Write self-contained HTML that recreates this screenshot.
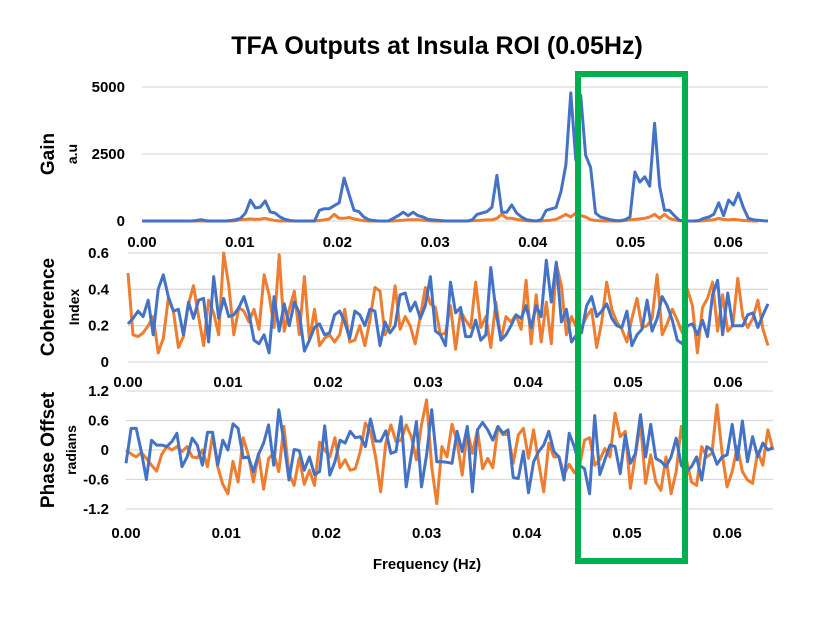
<!DOCTYPE html>
<html><head><meta charset="utf-8"><style>
body{margin:0;background:#fff;}
svg text{font-family:"Liberation Sans",Arial,sans-serif;font-weight:bold;fill:#000;}
</style></head><body>
<svg id="c" width="830" height="622" viewBox="0 0 830 622" xmlns="http://www.w3.org/2000/svg">
<text x="437" y="54" text-anchor="middle" font-size="25">TFA Outputs at Insula ROI (0.05Hz)</text>
<text x="427" y="569" text-anchor="middle" font-size="15">Frequency (Hz)</text>
<g id="grid"></g><g id="series"></g><g id="labels"></g>
<rect x="578" y="74" width="107" height="487" fill="none" stroke="#00b050" stroke-width="6"/>
</svg>
<script>
const xTicks=["0.00","0.01","0.02","0.03","0.04","0.05","0.06"];
const gainTicks=[0,2500,5000];
const cohTicks=[0,0.2,0.4,0.6];
const phaseTicks=[-1.2,-0.6,0,0.6,1.2];
const gainBlue=[0,0,0,0,0,0,0,0,0,0,0,20,50,10,0,0,0,0,20,50,100,300,780,490,520,750,340,300,150,60,20,5,0,0,0,0,400,460,460,570,680,1600,1000,400,350,150,50,20,0,0,0,100,200,330,200,330,200,150,60,40,30,10,0,0,0,0,0,50,250,300,350,520,1700,330,330,600,300,150,50,20,0,50,400,450,500,1100,2100,4780,2280,4700,2460,2000,300,150,100,50,20,10,50,150,1830,1450,1650,1300,3650,1300,400,400,200,30,0,0,0,20,100,150,250,680,200,780,600,1040,500,100,50,30,10,0];
const gainOrange=[0,0,0,0,0,0,0,0,0,0,0,0,0,0,0,0,0,0,0,10,50,60,80,60,70,100,50,20,0,0,0,0,0,0,0,0,20,40,80,250,100,100,130,80,40,10,0,0,0,0,0,0,20,30,50,50,50,30,10,0,0,0,0,0,0,0,0,10,20,30,40,40,100,250,100,100,60,30,10,0,0,0,20,30,60,150,250,150,300,200,150,50,20,10,0,0,0,0,20,40,60,80,100,150,250,100,250,100,40,10,0,0,0,0,10,30,50,100,60,40,60,40,20,10,0,0];
const cohBlue=[0.21,0.24,0.28,0.25,0.34,0.15,0.40,0.48,0.36,0.28,0.29,0.15,0.33,0.24,0.34,0.35,0.11,0.47,0.24,0.35,0.25,0.26,0.30,0.36,0.27,0.12,0.10,0.15,0.05,0.36,0.17,0.32,0.20,0.33,0.27,0.06,0.12,0.19,0.21,0.15,0.16,0.26,0.28,0.22,0.13,0.28,0.26,0.20,0.29,0.28,0.09,0.22,0.16,0.20,0.37,0.38,0.28,0.33,0.24,0.31,0.47,0.17,0.15,0.09,
0.44,0.27,0.30,0.14,0.14,0.23,0.12,0.15,0.52,0.28,0.12,0.15,0.20,0.26,0.24,0.31,0.19,0.31,0.25,0.56,0.33,0.55,0.22,0.29,0.11,0.15,0.16,0.31,0.36,0.25,0.28,0.32,0.24,0.20,0.19,0.28,0.09,0.15,0.18,0.34,0.17,0.24,0.36,0.31,0.23,0.12,0.10,0.20,0.21,0.15,0.23,0.14,0.37,0.45,0.15,0.38,0.20,0.20,0.20,0.26,0.27,0.19,0.26,0.32];
const cohOrange=[0.49,0.15,0.14,0.16,0.20,0.25,0.05,0.13,0.35,0.28,0.08,0.14,0.32,0.42,0.25,0.09,0.34,0.27,0.15,0.60,0.42,0.15,0.30,0.28,0.22,0.29,0.18,0.48,0.37,0.19,0.59,0.17,0.29,0.39,0.15,0.47,0.12,0.29,0.09,0.13,0.15,0.11,0.15,0.29,0.11,0.12,0.20,0.09,0.23,0.41,0.39,0.15,0.20,0.42,0.18,0.25,0.20,0.10,0.25,0.41,0.32,0.30,0.15,0.16,
0.31,0.07,0.28,0.23,0.19,0.44,0.19,0.25,0.08,0.33,0.12,0.25,0.22,0.26,0.18,0.45,0.10,0.37,0.11,0.33,0.10,0.54,0.42,0.15,0.25,0.19,0.19,0.25,0.29,0.08,0.22,0.44,0.29,0.22,0.18,0.11,0.24,0.35,0.19,0.20,0.24,0.48,0.15,0.21,0.29,0.23,0.16,0.40,0.31,0.05,0.30,0.35,0.44,0.17,0.37,0.17,0.20,0.46,0.25,0.19,0.24,0.34,0.18,0.09];
const phaseBlue=[-0.27,0.44,0.44,-0.03,-0.60,0.20,0.10,0.10,0.07,0.17,0.34,-0.34,-0.14,0.24,0.10,-0.31,0.36,0.36,-0.31,0.20,0.00,0.53,0.44,-0.16,-0.14,-0.44,-0.09,0.14,0.51,-0.31,0.82,0.17,-0.61,0.01,-0.01,-0.41,-0.14,-0.50,-0.44,0.49,-0.51,-0.24,0.20,0.14,0.38,0.25,0.27,0.07,0.63,0.18,0.18,0.39,-0.07,-0.03,0.68,-0.75,-0.10,0.58,-0.75,-0.10,0.82,-0.24,-0.24,-0.25,
-0.27,0.38,-0.03,0.48,-0.85,0.41,0.56,0.41,0.20,0.48,0.34,0.41,-0.56,-0.58,-0.03,-0.87,-0.24,-0.03,0.10,0.38,-0.03,-0.14,-0.61,0.34,0.07,-0.31,-0.38,-0.89,0.70,-0.50,-0.20,0.10,0.07,-0.48,0.31,-0.27,-0.07,0.72,-0.14,0.52,-0.17,-0.23,-0.34,-0.14,0.24,-0.31,-0.44,-0.34,-0.14,-0.61,0.07,0.00,-0.29,-0.14,-0.10,0.52,-0.20,0.59,-0.24,0.27,-0.14,0.14,0.00,0.05];
const phaseOrange=[0.00,-0.08,-0.14,-0.05,-0.17,-0.31,-0.43,-0.09,0.07,0.00,0.07,-0.03,0.07,-0.14,-0.16,0.00,-0.34,0.31,-0.34,-0.70,-0.89,-0.23,-0.65,0.25,-0.10,-0.65,-0.07,-0.80,-0.17,-0.07,-0.44,0.48,-0.48,-0.72,-0.16,-0.70,-0.41,-0.72,0.16,0.00,-0.14,0.25,-0.36,-0.20,-0.41,-0.38,-0.03,0.55,0.38,-0.14,-0.85,0.14,0.51,0.17,0.20,0.51,0.27,-0.20,0.51,1.02,-0.34,-1.09,0.07,-0.14,
0.52,0.17,-0.51,0.41,-0.07,0.41,-0.38,-0.17,-0.36,0.46,0.31,0.32,-0.27,0.31,0.44,-0.17,0.41,-0.27,-0.85,0.14,-0.14,-0.14,-0.50,-0.29,-0.46,-0.34,0.20,0.25,-0.31,-0.20,0.03,-0.14,0.75,0.27,0.38,-0.78,-0.10,0.55,-0.68,-0.10,-0.65,-0.82,-0.14,-0.89,-0.44,0.48,-0.20,-0.65,-0.72,0.07,-0.14,-0.07,0.92,-0.07,-0.75,-0.44,0.07,-0.44,-0.61,-0.68,-0.03,-0.31,0.41,0.00];

const NS="http://www.w3.org/2000/svg";
const grid=document.getElementById('grid'),ser=document.getElementById('series'),lab=document.getElementById('labels');
function mk(tag,attrs,parent){const e=document.createElementNS(NS,tag);for(const k in attrs)e.setAttribute(k,attrs[k]);parent.appendChild(e);return e;}
const panels=[
 {key:'gain',x0:142,pxPer:97.7,xEnd:768,yMin:0,yMax:5000,yBot:221,yTop:87,ticks:gainTicks,fmt:v=>String(v),tickX:125,xLabY:247,blue:gainBlue,orange:gainOrange,title:'Gain',sub:'a.u',subX:73,titleX:48,titleY:154},
 {key:'coherence',x0:128,pxPer:100,xEnd:768,yMin:0,yMax:0.6,yBot:362,yTop:253,ticks:cohTicks,fmt:v=>v===0?'0':v.toFixed(1),tickX:109,xLabY:387,blue:cohBlue,orange:cohOrange,title:'Coherence',sub:'Index',subX:75,titleX:48,titleY:307},
 {key:'phase',x0:126,pxPer:100.2,xEnd:773,yMin:-1.2,yMax:1.2,yBot:509,yTop:391,ticks:phaseTicks,fmt:v=>v===0?'0':v.toFixed(1),tickX:109,xLabY:538,blue:phaseBlue,orange:phaseOrange,title:'Phase Offset',sub:'radians',subX:72,titleX:48,titleY:450}
];
panels.forEach(p=>{
 const yS=v=>p.yBot-(v-p.yMin)/(p.yMax-p.yMin)*(p.yBot-p.yTop);
 const n=p.blue.length;
 const xS=i=>p.x0+i*(p.xEnd-p.x0)/(n-1);
 p.ticks.forEach(t=>{
  const gl=mk('line',{x1:p.x0,x2:p.xEnd,y1:yS(t),y2:yS(t),stroke:'#d9d9d9','stroke-width':1.3},grid);
  
  
  const tl=mk('text',{x:p.tickX,y:yS(t)+5,'text-anchor':'end','font-size':15},lab);
  tl.textContent=p.fmt(t);
  
  
 });
 xTicks.forEach((t,k)=>{
  const tl=mk('text',{x:p.x0+k*p.pxPer,y:p.xLabY,'text-anchor':'middle','font-size':15},lab);
  tl.textContent=t;
  
  
 });
 [['orange','#ed7d31',p.orange],['blue','#4472c4',p.blue]].forEach(([nm,col,arr])=>{
  const d=arr.map((v,i)=>(i?'L':'M')+xS(i).toFixed(1)+' '+yS(v).toFixed(1)).join(' ');
  const pa=mk('path',{d:d,fill:'none',stroke:col,'stroke-width':3,'stroke-linejoin':'round'},ser);
  
  
 });
 const tt=mk('text',{x:p.titleX,y:p.titleY,'text-anchor':'middle','font-size':19,transform:`rotate(-90 ${p.titleX} ${p.titleY})`,dy:6},lab);
 tt.textContent=p.title;
 
 
 const st=mk('text',{x:p.subX,y:p.titleY,'text-anchor':'middle','font-size':14,transform:`rotate(-90 ${p.subX} ${p.titleY})`,dy:4},lab);
 st.textContent=p.sub;
 
 
});
</script>
</body></html>
